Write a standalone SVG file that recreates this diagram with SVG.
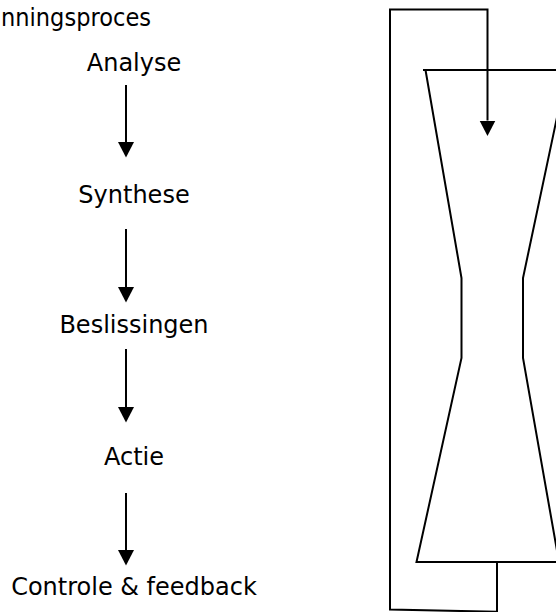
<svg xmlns="http://www.w3.org/2000/svg" width="556" height="612" viewBox="0 0 556 612">
  <style>
    .lbl { font-family: "DejaVu Sans", Verdana, "Liberation Sans", sans-serif; font-size: 24px; fill: #000; }
    .ln { stroke: #000; stroke-width: 2; fill: none; }
  </style>
  <defs>
    <marker id="ah" markerUnits="userSpaceOnUse" markerWidth="16" markerHeight="18" viewBox="0 -9 16 18" refX="0" refY="0" orient="auto">
      <path d="M0,-8 L15.5,0 L0,8 z" fill="#000"/>
    </marker>
  </defs>
  <rect width="556" height="612" fill="#fff"/>

  <g id="title"><text class="lbl" x="1" y="26" textLength="150" lengthAdjust="spacingAndGlyphs">nningsproces</text></g>
  <g id="analyse"><text class="lbl" x="134" y="71" text-anchor="middle">Analyse</text></g>
  <g id="synthese"><text class="lbl" x="134" y="203" text-anchor="middle">Synthese</text></g>
  <g id="beslissingen"><text class="lbl" x="134" y="333" text-anchor="middle">Beslissingen</text></g>
  <g id="actie"><text class="lbl" x="134" y="465" text-anchor="middle">Actie</text></g>
  <g id="controle"><text class="lbl" x="134" y="595" text-anchor="middle">Controle &amp; feedback</text></g>

  <g id="hourglass">
    <path class="ln" d="M423,70 H556 M425.5,70 L461.5,278 V358 L416.5,562 H556 M567,70 L523,278 V358 L559,562"/>
  </g>

  <g id="connectors">
    <line class="ln" x1="126" y1="85" x2="126" y2="142" marker-end="url(#ah)"/>
    <line class="ln" x1="126" y1="229" x2="126" y2="287" marker-end="url(#ah)"/>
    <line class="ln" x1="126" y1="349" x2="126" y2="407" marker-end="url(#ah)"/>
    <line class="ln" x1="126" y1="493" x2="126" y2="550" marker-end="url(#ah)"/>
    <path class="ln" d="M497,562 V613 M497,611.8 L390,609.5 V9.5 H487.5 V120.5" marker-end="url(#ah)"/>
  </g>
</svg>
